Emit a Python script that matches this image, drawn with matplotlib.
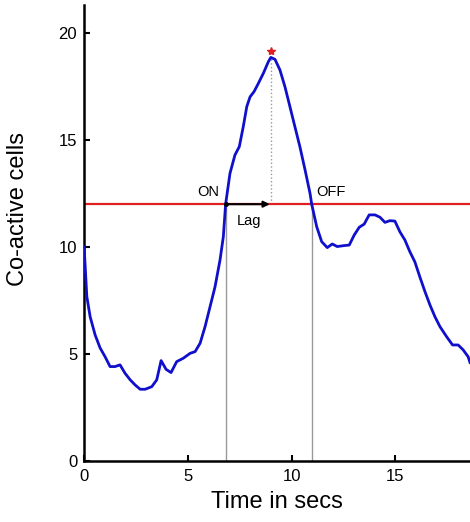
import numpy as np
import matplotlib
matplotlib.use("Agg")
import matplotlib.pyplot as plt

# co-active cell count over time
t = [0.0, 0.13, 0.29, 0.53, 0.77, 1.01, 1.25, 1.49, 1.73, 1.97, 2.22, 2.46,
     2.70, 2.94, 3.26, 3.50, 3.71, 3.95, 4.19, 4.46, 4.78, 5.11, 5.35, 5.59,
     5.83, 6.07, 6.31, 6.55, 6.71, 6.82, 7.03, 7.27, 7.48, 7.67, 7.84, 8.00,
     8.19, 8.40, 8.64, 8.88, 9.00, 9.20, 9.44, 9.68, 9.92, 10.16, 10.40,
     10.65, 10.89, 10.97, 11.21, 11.45, 11.72, 11.96, 12.20, 12.49, 12.78,
     13.02, 13.26, 13.50, 13.74, 14.02, 14.26, 14.50, 14.74, 14.98, 15.22,
     15.46, 15.70, 15.94, 16.18, 16.43, 16.67, 16.91, 17.15, 17.47, 17.76,
     18.03, 18.27, 18.51, 18.60]
cells = [10.0, 7.68, 6.74, 5.89, 5.28, 4.87, 4.41, 4.41, 4.49, 4.10, 3.79, 3.55,
         3.35, 3.35, 3.47, 3.79, 4.69, 4.28, 4.13, 4.64, 4.80, 5.03, 5.11, 5.50,
         6.28, 7.21, 8.14, 9.39, 10.48, 12.0, 13.44, 14.30, 14.69, 15.62, 16.56,
         17.02, 17.26, 17.65, 18.12, 18.66, 18.86, 18.77, 18.27, 17.49, 16.56,
         15.62, 14.69, 13.60, 12.50, 12.0, 10.95, 10.25, 9.97, 10.14, 10.02,
         10.06, 10.09, 10.56, 10.92, 11.07, 11.50, 11.50, 11.39, 11.15, 11.23,
         11.21, 10.71, 10.33, 9.78, 9.31, 8.61, 7.91, 7.29, 6.74, 6.28, 5.81,
         5.42, 5.42, 5.19, 4.87, 4.60]

threshold = 12
t_on = 6.82
t_off = 10.97
t_peak = 9.0
peak = 18.86

plt.rcParams['font.family'] = ['Liberation Sans', 'DejaVu Sans']

fig = plt.figure(figsize=(4.70, 5.22), dpi=100)
ax = fig.add_axes([0.179, 0.117, 0.821, 0.873])

# markers for onset / offset and the peak
ax.plot([t_on, t_on], [0, threshold], color='#999999', lw=1.0, zorder=1)
ax.plot([t_off, t_off], [0, threshold], color='#999999', lw=1.0, zorder=1)
ax.plot([t_peak, t_peak], [threshold, peak], color='#999999', lw=1.0,
        ls=':', zorder=1)
ax.axhline(threshold, color='#e02020', lw=1.6, zorder=2)
ax.plot(t, cells, color='#1010cc', lw=2.0, zorder=3)

ax.annotate('', xy=(t_peak - 0.05, threshold), xytext=(t_on, threshold),
            arrowprops=dict(arrowstyle='-|>', color='black', lw=1.5,
                            mutation_scale=9, shrinkA=0, shrinkB=0), zorder=4)
ax.plot([t_on], [threshold], 'o', color='black', ms=2.5, zorder=4)
ax.plot([t_peak], [peak + 0.3], '*', color='#e02020', ms=6, zorder=4)

ax.text(t_on - 0.3, threshold + 0.25, 'ON', ha='right', va='bottom', fontsize=10.5)
ax.text(t_off + 0.2, threshold + 0.25, 'OFF', ha='left', va='bottom', fontsize=10.5)
ax.text(7.95, threshold - 0.45, 'Lag', ha='center', va='top', fontsize=10.5)

ax.set_xlim(0, 18.6)
ax.set_ylim(0, 21.3)
ax.set_xticks([0, 5, 10, 15])
ax.set_yticks([0, 5, 10, 15, 20])
ax.tick_params(direction='in', length=4, width=1.5, labelsize=12)
ax.tick_params(axis='x', pad=6)
ax.tick_params(axis='y', pad=5)
ax.spines['top'].set_visible(False)
ax.spines['right'].set_visible(False)
ax.spines['left'].set_linewidth(1.8)
ax.spines['bottom'].set_linewidth(1.8)
ax.set_xlabel('Time in secs', fontsize=17, labelpad=5)
ax.set_ylabel('Co-active cells', fontsize=17)
ax.yaxis.set_label_coords(-0.142, 0.553)

fig.savefig('out.png', dpi=100)
